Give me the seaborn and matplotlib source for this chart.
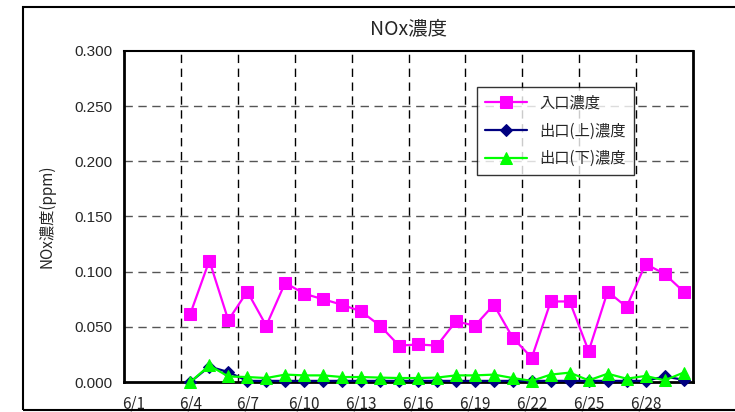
import matplotlib
import matplotlib.pyplot as plt
import numpy as np
import pandas as pd
import seaborn as sns
from matplotlib.patches import Rectangle

matplotlib.use("Agg")

# ---------------------------------------------------------------------------
# Data (ppm), 6/1 - 6/30; no measurement on 6/1-6/3
# ---------------------------------------------------------------------------
DAYS = [f"6/{d}" for d in range(1, 31)]
INLET = [None, None, None,
         0.062, 0.110, 0.056, 0.082, 0.051, 0.090, 0.080, 0.075, 0.070,
         0.064, 0.051, 0.033, 0.034, 0.033, 0.055, 0.051, 0.070, 0.040,
         0.022, 0.073, 0.073, 0.028, 0.082, 0.068, 0.107, 0.098, 0.082]
OUTLET_UP = [None, None, None,
             0.000, 0.014, 0.009, 0.001, 0.001, 0.001, 0.001, 0.001, 0.001,
             0.001, 0.001, 0.001, 0.001, 0.001, 0.001, 0.001, 0.001, 0.001,
             0.001, 0.001, 0.001, 0.001, 0.001, 0.001, 0.001, 0.005, 0.002]
OUTLET_DN = [None, None, None,
             0.000, 0.015, 0.005, 0.0045, 0.0036, 0.0067, 0.006, 0.006, 0.0045,
             0.0045, 0.004, 0.0036, 0.0036, 0.004, 0.006, 0.006, 0.0067, 0.0036,
             0.001, 0.0067, 0.0085, 0.0015, 0.0075, 0.003, 0.0055, 0.0015, 0.0085]
Y_TICKS = [0.0, 0.05, 0.10, 0.15, 0.20, 0.25, 0.30]

SERIES = [
    ("入口濃度", INLET, "#FF00FF", "s", 9),
    ("出口(上)濃度", OUTLET_UP, "#000080", "D", 6.5),
    ("出口(下)濃度", OUTLET_DN, "#00FF00", "^", 9),
]

sns.set_theme(style="white")
plt.rcParams["font.family"] = ["Noto Sans CJK JP", "DejaVu Sans"]

fig = plt.figure(figsize=(7.35, 4.12), dpi=100)
ax = fig.add_axes([124 / 735, 1 - 382 / 412, (693 - 124) / 735, (382 - 51) / 412])

xpos = np.arange(len(DAYS)) + 0.5
for label, vals, color, marker, ms in SERIES:
    df = pd.DataFrame({"x": xpos, "y": pd.to_numeric(pd.Series(vals), errors="coerce")})
    sns.lineplot(data=df, x="x", y="y", ax=ax, color=color, marker=marker,
                 markersize=ms, markeredgecolor=color, linewidth=1.6,
                 label=label, clip_on=False, zorder=3)

ax.set_xlim(0, len(DAYS))
ax.set_ylim(0, 0.3)

# gridlines at category boundaries every 3 days, labels centred on categories
ax.set_xticks(np.arange(0, len(DAYS), 3))
ax.set_xticklabels([])
ax.set_xticks(xpos[::3], minor=True)
ax.set_xticklabels(DAYS[::3], minor=True, fontsize=11)
ax.set_yticks(Y_TICKS)
ax.set_yticklabels([f"{v:.3f}" for v in Y_TICKS], fontsize=11,
                   family=["Liberation Sans", "DejaVu Sans"])
ax.tick_params(axis="both", which="both", length=0, pad=8)
ax.tick_params(axis="x", which="minor", pad=10)

ax.grid(False)
for xv in np.arange(3, len(DAYS), 3):
    ax.axvline(xv, color="black", linestyle=(0, (6, 4)), linewidth=1.0, zorder=1)
for yv in Y_TICKS[1:-1]:
    ax.axhline(yv, color="#555555", linestyle=(0, (6, 4)), linewidth=1.0, zorder=1)

for side in ["left", "bottom", "right"]:
    ax.spines[side].set_color("black")
    ax.spines[side].set_linewidth(2)
ax.spines["top"].set_color("black")
ax.spines["top"].set_linewidth(1.5)

ax.set_xlabel("")
ax.set_ylabel("NOx濃度(ppm)", fontsize=11, labelpad=14)
ax.set_title("NOx濃度", fontsize=14, pad=12)

leg = ax.legend(loc="upper left", bbox_to_anchor=((477 - 124) / 569, 1 - (87 - 51) / 331),
                fontsize=11, frameon=True, fancybox=False, handlelength=2.8,
                labelspacing=0.7, borderpad=0.5, borderaxespad=0)
leg.get_frame().set_edgecolor("black")
leg.get_frame().set_linewidth(1.0)

# outer chart frame
fig.patches.append(Rectangle((23 / 735, 2 / 412), 1.0, (410 - 7) / 412,
                             transform=fig.transFigure, fill=False,
                             edgecolor="black", linewidth=1.5))

fig.savefig("out.png", dpi=100)
